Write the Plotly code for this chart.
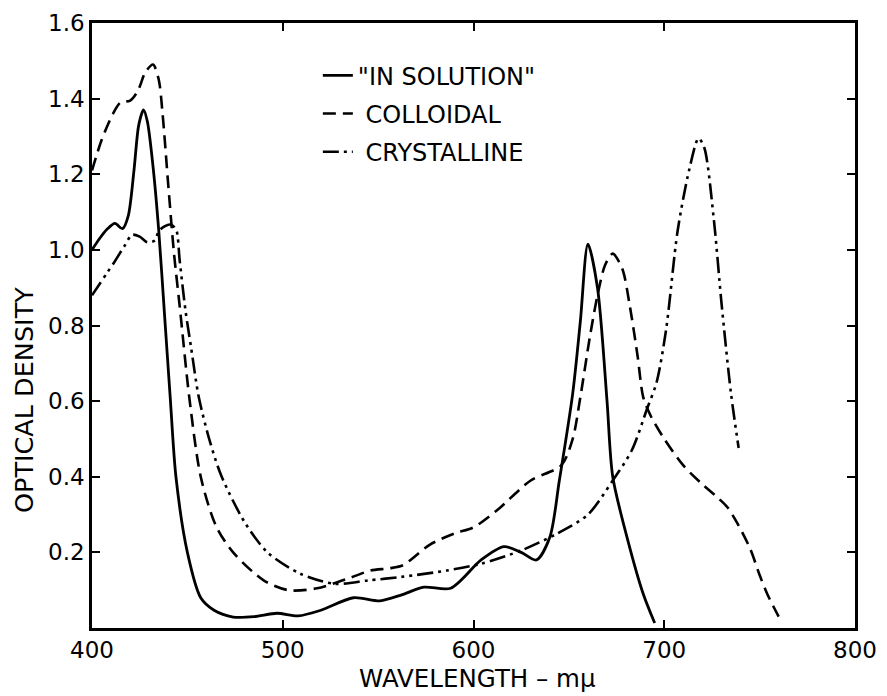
import plotly.graph_objects as go

# ---- data ----
sol_nm = [400, 404, 408, 412, 416, 419, 422, 424.5, 427, 429, 432, 435, 438, 441, 444, 450,
          457, 464, 474, 485, 497, 508, 520, 537, 551, 562, 574, 588, 604, 616, 625, 633,
          640, 645, 652, 656, 660, 665, 670, 673, 681, 689, 695]
sol_od = [1.00, 1.03, 1.055, 1.07, 1.056, 1.09, 1.21, 1.33, 1.37, 1.34, 1.22, 1.05, 0.83, 0.61, 0.40, 0.20,
          0.08, 0.047, 0.029, 0.030, 0.039, 0.032, 0.047, 0.080, 0.072, 0.087, 0.108, 0.105, 0.18, 0.215, 0.20, 0.18,
          0.24, 0.39, 0.62, 0.81, 1.015, 0.90, 0.60, 0.40, 0.23, 0.09, 0.013]

col_nm = [400, 405, 411, 415, 420, 424, 428, 432, 435, 437, 440, 443, 446, 451, 457, 465, 474, 490,
          503, 518, 536, 546, 556, 563, 577, 590, 600, 612, 630, 646, 652, 656, 661, 665, 669, 673,
          678, 682, 686, 689, 693, 700, 710, 720, 728, 733, 738, 745, 750, 754, 760]
col_od = [1.21, 1.29, 1.36, 1.39, 1.395, 1.42, 1.47, 1.49, 1.45, 1.36, 1.17, 0.99, 0.85, 0.61, 0.40, 0.27, 0.20, 0.126,
          0.100, 0.105, 0.134, 0.152, 0.158, 0.166, 0.22, 0.25, 0.266, 0.31, 0.39, 0.43, 0.50, 0.61, 0.77, 0.88, 0.96, 0.99,
          0.95, 0.85, 0.72, 0.61, 0.56, 0.50, 0.43, 0.38, 0.345, 0.32, 0.28, 0.21, 0.14, 0.09, 0.03]

cry_nm = [400, 404, 408, 412, 417, 421, 425, 429, 433, 435, 438, 441, 444, 446, 449, 452, 456, 462,
          468, 480, 492, 509, 527, 545, 562, 586, 604, 625, 644, 660, 673, 683, 691, 696, 701, 707,
          713, 718, 721, 726, 730, 735, 739]
cry_od = [0.88, 0.91, 0.94, 0.97, 1.01, 1.04, 1.035, 1.02, 1.025, 1.05, 1.062, 1.067, 1.055, 0.97, 0.84, 0.74, 0.61, 0.49,
          0.40, 0.28, 0.20, 0.144, 0.117, 0.126, 0.135, 0.152, 0.17, 0.205, 0.25, 0.30, 0.39, 0.47, 0.58, 0.65, 0.79, 1.05,
          1.21, 1.295, 1.27, 1.08, 0.86, 0.62, 0.476]

names = ['"IN SOLUTION"', '\u00a0COLLOIDAL', '\u00a0CRYSTALLINE']
x_ticks = [400, 500, 600, 700, 800]
x_ticktext = ["400", "500", "600", "700", "800"]
y_ticks = [0.2, 0.4, 0.6, 0.8, 1.0, 1.2, 1.4, 1.6]
y_ticktext = ["0.2", "0.4", "0.6", "0.8", "1.0", "1.2", "1.4", "1.6"]

FONT = "DejaVu Sans"

# page body has an 8px margin; margins below compensate so the plot box sits where the reference has it
L, R, T, B = 84, 40, 15, 76
PW = 887 - L - R
PH = 696 - T - B

fig = go.Figure()
fig.add_trace(go.Scatter(x=sol_nm, y=sol_od, mode="lines", name=names[0], legendgroup="a",
                         line=dict(color="black", width=2.8, shape="spline", smoothing=0.8)))
fig.add_trace(go.Scatter(x=col_nm, y=col_od, mode="lines", name=names[1], legendgroup="b",
                         line=dict(color="black", width=2.6, shape="spline", smoothing=0.8,
                                   dash="13px,7px")))
fig.add_trace(go.Scatter(x=cry_nm, y=cry_od, mode="lines", name=names[2], legendgroup="c",
                         line=dict(color="black", width=2.6, shape="spline", smoothing=0.8,
                                   dash="16px,5px,3px,5px,3px,5px")))

axis_common = dict(showline=True, linecolor="black", linewidth=2.5, mirror="ticks",
                   ticks="inside", ticklen=8, tickwidth=2, tickcolor="black",
                   showgrid=False, zeroline=False, automargin=False,
                   ticklabeloverflow="allow",
                   tickfont=dict(family=FONT, size=23, color="black"))

fig.update_xaxes(range=[400, 800], tickvals=x_ticks, ticktext=x_ticktext, **axis_common)
fig.update_yaxes(range=[0, 1.6], tickvals=y_ticks, ticktext=y_ticktext, **axis_common)

fig.update_layout(
    width=887, height=696,
    margin=dict(l=L, r=R, t=T, b=B, autoexpand=False),
    paper_bgcolor="white", plot_bgcolor="white",
    font=dict(family=FONT, color="black"),
    legend=dict(x=0.296, xanchor="left", y=0.95, yanchor="top",
                bgcolor="rgba(0,0,0,0)", font=dict(family=FONT, size=24, color="black"),
                tracegroupgap=4),
    annotations=[
        dict(text="WAVELENGTH – mμ", xref="paper", yref="paper",
             x=(477 - 92) / PW, y=-(679 - 628) / PH, xanchor="center", yanchor="middle",
             showarrow=False, font=dict(family=FONT, size=24.5, color="black")),
        dict(text="OPTICAL DENSITY", xref="paper", yref="paper", textangle=-90,
             x=-(92 - 24) / PW, y=(628 - 400) / PH, xanchor="center", yanchor="middle",
             showarrow=False, font=dict(family=FONT, size=25.5, color="black")),
    ],
)

fig.write_html("out.html")
